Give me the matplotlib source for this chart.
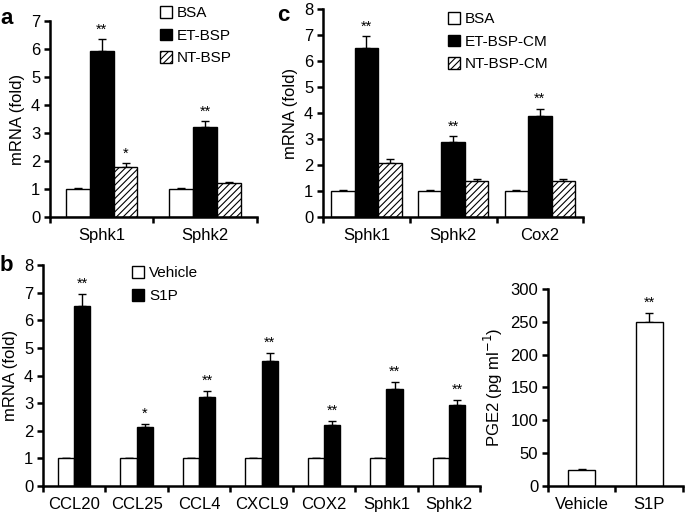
import numpy as np
import matplotlib
matplotlib.use("Agg")
import matplotlib.pyplot as plt
from matplotlib.patches import Patch

plt.rcParams['font.family'] = ['Liberation Sans', 'DejaVu Sans']
plt.rcParams['hatch.linewidth'] = 0.8
fs = 10.5

# panel a
a_genes = ["Sphk1", "Sphk2"]
a_series = ["BSA", "ET-BSP", "NT-BSP"]
a_vals = [[1.0, 1.0], [5.93, 3.2], [1.8, 1.2]]
a_err = [[0.03, 0.03], [0.42, 0.22], [0.12, 0.06]]
a_stars = [["", ""], ["**", "**"], ["*", ""]]

# panel c
c_genes = ["Sphk1", "Sphk2", "Cox2"]
c_series = ["BSA", "ET-BSP-CM", "NT-BSP-CM"]
c_vals = [[1.0, 1.0, 1.0], [6.5, 2.9, 3.9], [2.08, 1.4, 1.4]]
c_err = [[0.03, 0.03, 0.03], [0.45, 0.2, 0.26], [0.14, 0.08, 0.08]]
c_stars = [["", "", ""], ["**", "**", "**"], ["", "", ""]]

# panel b
b_genes = ["CCL20", "CCL25", "CCL4", "CXCL9", "COX2", "Sphk1", "Sphk2"]
b_series = ["Vehicle", "S1P"]
b_vals = [[1, 1, 1, 1, 1, 1, 1], [6.52, 2.12, 3.22, 4.52, 2.22, 3.52, 2.93]]
b_err = [[0.03] * 7, [0.44, 0.14, 0.22, 0.3, 0.14, 0.23, 0.18]]
b_stars = [[""] * 7, ["**", "*", "**", "**", "**", "**", "**"]]

# panel d (PGE2)
d_groups = ["Vehicle", "S1P"]
d_vals = [25, 250]
d_err = [1.5, 14]
d_stars = ["", "**"]

styles = [dict(facecolor="white", hatch=None),
          dict(facecolor="black", hatch=None),
          dict(facecolor="white", hatch="/////")]


def style_axes(ax, ymax, ystep, ngroups):
    for s in ["top", "right"]:
        ax.spines[s].set_visible(False)
    for s in ["left", "bottom"]:
        ax.spines[s].set_linewidth(1.8)
    ax.set_ylim(0, ymax)
    ax.set_yticks(np.arange(0, ymax + 0.001, ystep))
    ax.set_xlim(-0.5, ngroups - 0.5)
    ax.set_xticks(np.arange(-0.5, ngroups, 1.0))
    ax.set_xticklabels([])
    ax.tick_params(axis="both", direction="out", length=4, width=1.8, labelsize=fs + 1.5)
    ax.tick_params(axis="x", which="minor", length=0, pad=8)
    ax.tick_params(axis="y", pad=3)


def grouped(ax, genes, series, vals, errs, stars, width, ymax, ystep, star_off):
    n = len(series)
    x = np.arange(len(genes))
    for k in range(n):
        pos = x + (k - (n - 1) / 2) * width
        st = styles[k]
        ax.bar(pos, vals[k], width, color=st["facecolor"], edgecolor="black",
               linewidth=1.0, hatch=st["hatch"], label=series[k], zorder=2)
        ax.errorbar(pos, vals[k], yerr=[np.zeros(len(genes)), errs[k]], fmt="none",
                    ecolor="black", elinewidth=1.0, capsize=3, capthick=1.0, zorder=1)
        for p, v, e, s in zip(pos, vals[k], errs[k], stars[k]):
            if s:
                ax.text(p, v + e + star_off, s, ha="center", va="bottom", fontsize=fs)
    style_axes(ax, ymax, ystep, len(genes))
    ax.set_xticks(x, minor=True)
    ax.set_xticklabels(genes, minor=True, fontsize=fs + 1.5)
    ax.set_ylabel("mRNA (fold)", fontsize=fs + 1.5, labelpad=4)


def add_legend(ax, series, anchor):
    handles = [Patch(facecolor=styles[k]["facecolor"], edgecolor="black",
                     hatch=styles[k]["hatch"], linewidth=1.0) for k in range(len(series))]
    ax.legend(handles, series, loc="upper left", bbox_to_anchor=anchor, frameon=False,
              handlelength=0.8, handleheight=0.8, handletextpad=0.3, labelspacing=0.55,
              borderpad=0, borderaxespad=0, fontsize=fs + 0.5)


fig = plt.figure(figsize=(6.85, 5.16), dpi=100)

ax_a = fig.add_axes([0.073, 0.5795, 0.302, 0.38])
grouped(ax_a, a_genes, a_series, a_vals, a_err, a_stars, 0.23, 7, 1, 0.1)
add_legend(ax_a, a_series, (0.53, 1.075))

ax_c = fig.add_axes([0.4715, 0.5795, 0.38, 0.403])
grouped(ax_c, c_genes, c_series, c_vals, c_err, c_stars, 0.27, 8, 1, 0.1)
add_legend(ax_c, c_series, (0.48, 0.985))

ax_b = fig.add_axes([0.0628, 0.0581, 0.638, 0.428])
grouped(ax_b, b_genes, b_series, b_vals, b_err, b_stars, 0.26, 8, 1, 0.12)
add_legend(ax_b, b_series, (0.204, 0.995))

ax_d = fig.add_axes([0.8, 0.0581, 0.197, 0.382])
xd = np.arange(len(d_groups))
ax_d.bar(xd, d_vals, 0.4, color="white", edgecolor="black", linewidth=1.0, zorder=2)
ax_d.errorbar(xd, d_vals, yerr=[np.zeros(len(d_vals)), d_err], fmt="none",
              ecolor="black", elinewidth=1.0, capsize=3, capthick=1.0, zorder=1)
for p, v, e, s in zip(xd, d_vals, d_err, d_stars):
    if s:
        ax_d.text(p, v + e + 4, s, ha="center", va="bottom", fontsize=fs)
style_axes(ax_d, 300, 50, 2)
ax_d.set_xticks(xd, minor=True)
ax_d.set_xticklabels(d_groups, minor=True, fontsize=fs + 1.5)
ax_d.set_ylabel("PGE2 (pg ml$^{-1}$)", fontsize=fs + 1.5, labelpad=4)

fig.text(0.0, 0.985, "a", fontsize=16, fontweight="bold", va="top")
fig.text(0.405, 0.99, "c", fontsize=16, fontweight="bold", va="top")
fig.text(0.0, 0.505, "b", fontsize=16, fontweight="bold", va="top")

fig.savefig("out.png", dpi=100)
